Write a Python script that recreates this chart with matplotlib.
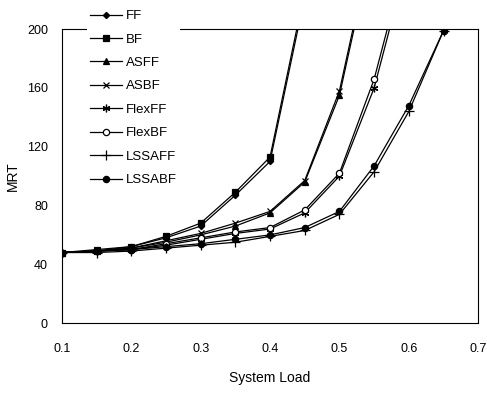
import numpy as np
import matplotlib.pyplot as plt

plt.rcParams['font.family'] = ['Liberation Sans', 'DejaVu Sans']

#---------- data ----------#
load = [0.1, 0.15, 0.2, 0.25, 0.3, 0.35, 0.4, 0.45, 0.5, 0.55, 0.6, 0.65]

ff     = [48, 49, 52, 58, 66, 87, 110, 222]
bf     = [48, 50, 52, 59, 68, 89, 113, 226]
asff   = [48, 49, 51, 55, 60, 66, 75, 96, 155, 262]
asbf   = [48, 49, 51, 56, 61, 68, 76, 97, 158, 266]
flexff = [48, 49, 50, 53, 57, 61, 64, 75, 100, 160, 250]
flexbf = [48, 49, 50, 54, 58, 62, 65, 77, 102, 166, 256]
lssaff = [48, 48, 49, 51, 53, 55, 59, 63, 74, 103, 144, 199]
lssabf = [48, 49, 50, 52, 54, 57, 60, 65, 76, 107, 148, 199]

names = ["FF", "BF", "ASFF", "ASBF", "FlexFF", "FlexBF", "LSSAFF", "LSSABF"]
series = [ff, bf, asff, asbf, flexff, flexbf, lssaff, lssabf]
marks = ['D', 's', '^', 'x', (6, 2, 0), 'o', '+', 'o']
sizes = [3.2, 4.5, 4.5, 4.5, 5.5, 4.5, 7, 4.5]
faces = ['k', 'k', 'k', 'k', 'k', 'w', 'k', 'k']

#---------- plot ----------#
fig = plt.figure(figsize=(4.87, 3.94), dpi=100)
ax = fig.add_axes([0.127, 0.180, 0.855, 0.746])

for name, y, m, s, fc in zip(names, series, marks, sizes, faces):
    ax.plot(load[:len(y)], y, color='k', lw=0.9, marker=m, ms=s,
            mfc=fc, mec='k', mew=0.9, label=name)

ax.set_xlim(0.1, 0.7)
ax.set_ylim(0, 200)
ax.set_xticks(np.arange(0.1, 0.71, 0.1))
ax.set_xticklabels(["0.1", "0.2", "0.3", "0.4", "0.5", "0.6", "0.7"])
ax.set_yticks([0, 40, 80, 120, 160, 200])
ax.tick_params(axis='x', length=0, pad=14, labelsize=9)
ax.tick_params(axis='y', length=0, pad=10, labelsize=9)
for sp in ax.spines.values():
    sp.set_linewidth(0.8)

ax.set_xlabel("System Load", fontsize=10, labelpad=12)
ax.set_ylabel("MRT", fontsize=10, labelpad=5)

leg = fig.legend(loc='upper left', bbox_to_anchor=(0.165, 1.0), fontsize=9.5,
                 handlelength=2.4, labelspacing=0.85, handletextpad=0.3,
                 frameon=True, fancybox=False, borderpad=0.25)
leg.get_frame().set_facecolor('w')
leg.get_frame().set_edgecolor('none')
leg.get_frame().set_alpha(1)

plt.savefig("out.png", dpi=100)
